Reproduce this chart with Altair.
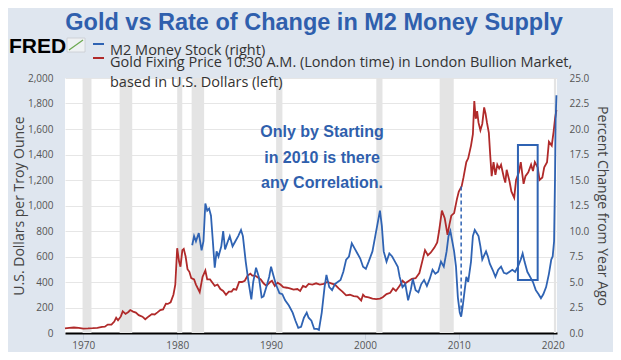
import altair as alt
import pandas as pd

# ---------------- data ----------------
gold_years = [1968.05, 1968.5, 1969.0, 1969.5, 1970.0, 1970.5, 1971.0, 1971.5, 1972.0, 1972.3, 1972.6, 1973.0,
              1973.3, 1973.5, 1973.7, 1974.0, 1974.2, 1974.5, 1974.8, 1975.0, 1975.3, 1975.6, 1975.9, 1976.3,
              1976.6, 1977.0, 1977.3, 1977.6, 1977.9, 1978.2, 1978.5, 1978.8, 1979.0, 1979.3, 1979.6, 1979.8,
              1980.0, 1980.2, 1980.35, 1980.55, 1980.7, 1980.9, 1981.1, 1981.3, 1981.5, 1981.8, 1982.0, 1982.4,
              1982.7, 1983.0, 1983.2, 1983.5, 1983.8, 1984.0, 1984.3, 1984.6, 1984.9, 1985.2, 1985.5, 1985.8,
              1986.0, 1986.3, 1986.6, 1986.9, 1987.2, 1987.5, 1987.8, 1988.0, 1988.3, 1988.6, 1988.9, 1989.2,
              1989.5, 1989.9, 1990.1, 1990.4, 1990.7, 1991.0, 1991.3, 1991.7, 1992.0, 1992.4, 1992.8, 1993.1,
              1993.4, 1993.7, 1994.0, 1994.4, 1994.8, 1995.2, 1995.6, 1996.0, 1996.4, 1996.8, 1997.2, 1997.6,
              1998.0, 1998.4, 1998.8, 1999.2, 1999.6, 1999.8, 2000.0, 2000.4, 2000.8, 2001.2, 2001.6, 2001.9,
              2002.3, 2002.7, 2003.0, 2003.3, 2003.7, 2004.0, 2004.3, 2004.7, 2005.0, 2005.4, 2005.8, 2006.1,
              2006.4, 2006.7, 2007.0, 2007.4, 2007.7, 2007.9, 2008.2, 2008.5, 2008.8, 2009.0, 2009.2, 2009.5,
              2009.8, 2010.0, 2010.3, 2010.5, 2010.8, 2011.0, 2011.3, 2011.5, 2011.65, 2011.8, 2011.95, 2012.1,
              2012.3, 2012.5, 2012.7, 2012.85, 2013.0, 2013.2, 2013.35, 2013.5, 2013.7, 2013.9, 2014.1, 2014.3,
              2014.5, 2014.8, 2014.95, 2015.1, 2015.4, 2015.6, 2015.9, 2016.1, 2016.4, 2016.6, 2016.9, 2017.1,
              2017.4, 2017.7, 2017.9, 2018.1, 2018.4, 2018.6, 2018.9, 2019.1, 2019.4, 2019.6, 2019.9, 2020.1,
              2020.25, 2020.4]
gold_values = [36, 40, 43, 41, 35, 36, 38, 41, 48, 50, 66, 66,
               90, 120, 100, 130, 170, 150, 165, 180, 168, 160, 140, 128,
               108, 132, 148, 145, 162, 180, 185, 230, 228, 240, 300, 380,
               665, 560, 520, 650, 660, 600, 500, 480, 430, 420, 380, 320,
               440, 490, 420, 420, 390, 370, 380, 345, 330, 300, 325, 325,
               345, 340, 400, 400, 410, 450, 465, 450, 450, 435, 420, 390,
               370, 400, 410, 370, 395, 380, 360, 355, 350, 340, 345, 330,
               370, 360, 385, 380, 390, 380, 385, 400, 390, 380, 350, 325,
               295, 300, 290, 285, 255, 300, 285, 280, 270, 265, 270, 280,
               305, 315, 350, 330, 370, 410, 390, 410, 425, 430, 470, 560,
               650, 610, 630, 670, 710, 800, 960, 900, 770, 850, 920, 940,
               1050, 1110, 1150, 1220, 1340, 1370, 1470, 1560, 1820, 1680, 1740, 1650,
               1590, 1640, 1770, 1720, 1650, 1570, 1390, 1230, 1340, 1240, 1320, 1290,
               1320, 1220, 1180, 1280, 1190, 1110, 1060, 1200, 1260, 1340, 1170, 1230,
               1260, 1320, 1270, 1340, 1300, 1200, 1220, 1300, 1340, 1500, 1470, 1580,
               1680, 1750]

m2_years = [1981.6, 1981.8, 1982.0, 1982.3, 1982.6, 1982.8, 1983.0, 1983.2, 1983.4, 1983.6, 1983.8, 1984.0,
            1984.2, 1984.4, 1984.7, 1984.9, 1985.1, 1985.4, 1985.6, 1985.9, 1986.2, 1986.5, 1986.8, 1987.0,
            1987.3, 1987.6, 1987.9, 1988.1, 1988.4, 1988.7, 1989.0, 1989.2, 1989.5, 1989.8, 1990.0, 1990.2,
            1990.5, 1990.9, 1991.2, 1991.5, 1991.9, 1992.3, 1992.6, 1992.9, 1993.2, 1993.5, 1993.8, 1994.0,
            1994.3, 1994.6, 1994.9, 1995.1, 1995.4, 1995.7, 1995.9, 1996.2, 1996.5, 1996.8, 1997.1, 1997.4,
            1997.7, 1998.0, 1998.3, 1998.6, 1998.9, 1999.2, 1999.5, 1999.8, 2000.1, 2000.4, 2000.8, 2001.1,
            2001.4, 2001.6, 2001.8, 2002.0, 2002.3, 2002.6, 2002.9, 2003.2, 2003.5, 2003.7, 2004.0, 2004.3,
            2004.6, 2004.9, 2005.1, 2005.4, 2005.7, 2006.0, 2006.3, 2006.6, 2006.9, 2007.2, 2007.5, 2007.8,
            2008.1, 2008.4, 2008.7, 2008.9, 2009.1, 2009.3, 2009.5, 2009.7, 2009.9, 2010.1, 2010.25, 2010.4,
            2010.6, 2010.8, 2011.0, 2011.3, 2011.5, 2011.7, 2011.9, 2012.1, 2012.3, 2012.5, 2012.7, 2012.9,
            2013.1, 2013.3, 2013.6, 2013.9, 2014.2, 2014.5, 2014.8, 2015.1, 2015.4, 2015.7, 2016.0, 2016.3,
            2016.6, 2016.8, 2017.0, 2017.3, 2017.6, 2017.9, 2018.2, 2018.5, 2018.75, 2019.0, 2019.3, 2019.6,
            2019.85, 2020.0, 2020.15, 2020.25, 2020.32, 2020.4]
m2_values = [8.6, 9.5, 9.0, 9.8, 8.1, 9.0, 12.7, 12.0, 12.2, 11.5, 9.0, 6.4,
             8.0, 7.5, 8.5, 10.0, 8.2, 9.0, 9.5, 8.5, 9.0, 9.5, 10.1, 9.5,
             7.0, 5.0, 3.3, 5.0, 6.4, 5.5, 3.5, 3.6, 4.5, 5.5, 6.5, 5.8,
             4.8, 3.9, 3.8, 3.2, 2.7, 2.0, 1.2, 0.5, 0.6, 1.5, 2.0, 1.5,
             1.2, 0.4, 0.4, 0.3, 2.0, 4.5, 5.7, 4.5, 4.2, 4.8, 5.0, 5.2,
             6.0, 7.2, 7.5, 8.8, 8.3, 7.8, 7.3, 6.5, 6.3, 7.0, 8.0, 9.5,
             11.0, 12.0, 10.5, 8.0, 7.0, 7.8, 7.5, 7.0, 6.5, 5.5, 4.5, 4.8,
             3.2, 4.3, 5.3, 4.2, 4.0, 4.8, 5.2, 4.6, 5.3, 6.2, 5.8, 6.0,
             7.0, 6.5, 8.0, 9.5, 10.0, 9.0, 8.0, 6.5, 3.5, 2.0, 1.6, 2.5,
             4.0, 5.5, 5.0, 7.0, 9.5, 10.1, 9.8, 9.5, 8.5, 7.2, 7.6, 8.0,
             7.5, 6.8, 6.2, 5.5, 6.2, 6.5, 5.9, 5.8, 6.0, 6.2, 6.0, 6.5,
             7.2, 7.8, 7.0, 6.0, 5.5, 5.0, 4.2, 3.8, 3.4, 3.8, 4.5, 5.8,
             7.2, 7.5, 9.0, 15.3, 21.0, 23.3]

rec_start = [1969.92, 1973.87, 1980.0, 1981.54, 1990.54, 2001.21, 2007.96, 2020.13]
rec_end = [1970.87, 1975.21, 1980.54, 1982.87, 1991.21, 2001.87, 2009.46, 2020.37]

box_x = [2016.3]
box_x2 = [2018.4]
box_y = [415]
box_y2 = [1475]
dash_x = [2010.25]
dash_y = [1150]
dash_y2 = [140]

x_ticks = [1970, 1980, 1990, 2000, 2010, 2020]
left_ticks = [0, 200, 400, 600, 800, 1000, 1200, 1400, 1600, 1800, 2000]
right_ticks = [0, 2.5, 5, 7.5, 10, 12.5, 15, 17.5, 20, 22.5, 25]

title_text = "Gold vs Rate of Change in M2 Money Supply"
legend_1 = "M2 Money Stock (right)"
legend_2 = "Gold Fixing Price 10:30 A.M. (London time) in London Bullion Market,"
legend_3 = "based in U.S. Dollars (left)"
note_lines = ["Only by Starting", "in 2010 is there", "any Correlation."]

# ---------------- styling ----------------
BLUE = "#2f63b3"
RED = "#b02a2a"
NOTE = "#2f5fad"
FONT = "Open Sans"

gold_df = pd.DataFrame({"year": gold_years, "gold": gold_values})
m2_df = pd.DataFrame({"year": m2_years, "m2": m2_values})
rec_df = pd.DataFrame({"start": rec_start, "end": rec_end})
box_df = pd.DataFrame({"x": box_x, "x2": box_x2, "y": box_y, "y2": box_y2})
dash_df = pd.DataFrame({"x": dash_x, "y": dash_y, "y2": dash_y2})
one = pd.DataFrame({"a": [0]})

xs = alt.Scale(domain=[1968.05, 2020.46], nice=False, zero=False)
xax = alt.Axis(values=x_ticks, format="d", title=None, grid=False,
               domainColor="black", domainWidth=2.2, tickColor="#c9d2de", tickSize=6,
               labelPadding=1, labelFontSize=10, labelColor="#555", labelFont=FONT)
ls = alt.Scale(domain=[0, 2000], nice=False, zero=True)
lax = alt.Axis(values=left_ticks, format=",.0f", title="U.S. Dollars per Troy Ounce",
               grid=True, gridColor="#e6e6e6", domain=False, ticks=False,
               labelPadding=12, labelFontSize=10, labelColor="#555", labelFont=FONT,
               titleFont=FONT, titleFontSize=14, titleFontWeight="normal", titleColor="#444",
               titlePadding=1)
rs = alt.Scale(domain=[0, 25], nice=False, zero=True)
rax = alt.Axis(values=right_ticks, format=".1f", title="Percent Change from Year Ago",
               orient="right", grid=False, domain=False, ticks=False,
               labelPadding=12, labelFontSize=10, labelColor="#555", labelFont=FONT,
               titleFont=FONT, titleFontSize=14, titleFontWeight="normal", titleColor="#444",
               titlePadding=6)

rec = alt.Chart(rec_df).mark_rect(color="#e4e4e4").encode(
    x=alt.X("start:Q", scale=xs, axis=xax), x2="end:Q",
    y=alt.value(0), y2=alt.value(255))

gold = alt.Chart(gold_df).mark_line(color=RED, strokeWidth=1.8).encode(
    x=alt.X("year:Q", scale=xs, axis=xax),
    y=alt.Y("gold:Q", scale=ls, axis=lax))

box = alt.Chart(box_df).mark_rect(fillOpacity=0, stroke=BLUE, strokeWidth=2).encode(
    x=alt.X("x:Q", scale=xs, axis=xax), x2="x2:Q",
    y=alt.Y("y:Q", scale=ls, axis=lax), y2="y2:Q")

dash = alt.Chart(dash_df).mark_rule(color=BLUE, strokeWidth=1.5, strokeDash=[4, 3]).encode(
    x=alt.X("x:Q", scale=xs, axis=xax),
    y=alt.Y("y:Q", scale=ls, axis=lax), y2="y2:Q")

left = alt.layer(rec, gold, box, dash)

m2 = alt.Chart(m2_df).mark_line(color=BLUE, strokeWidth=1.8).encode(
    x=alt.X("year:Q", scale=xs, axis=xax),
    y=alt.Y("m2:Q", scale=rs, axis=rax))


def txt(text, x, y, size, color, weight="normal", align="left", font=FONT, **kw):
    return alt.Chart(one).mark_text(text=text, align=align, baseline="alphabetic",
                                    fontSize=size, fontWeight=weight, color=color,
                                    font=font, **kw).encode(x=alt.value(x), y=alt.value(y))


title = txt(title_text, 249, -48, 23.5, NOTE, weight="bold", align="center", font="Liberation Sans")
fred = txt("FRED", -56, -25, 21, "black", weight="bold", font="Liberation Sans")
leg1 = txt(legend_1, 45, -23, 14.5, "#333")
leg2 = txt(legend_2, 45, -11, 14.5, "#333")
leg3 = txt(legend_3, 45, 9, 14.5, "#333")
note = alt.Chart(one).mark_text(text=note_lines, align="center", baseline="alphabetic",
                                fontSize=16, fontWeight="bold", color=NOTE,
                                font="Liberation Sans", lineHeight=25.5).encode(
    x=alt.value(257), y=alt.value(59))

# small FRED chart icon
icon_box = alt.Chart(one).mark_rect(fill="#eef1f3", stroke="#c8ccd0", strokeWidth=0.8).encode(
    x=alt.value(2), x2=alt.value(20), y=alt.value(-40), y2=alt.value(-26))
icon_line = alt.Chart(one).mark_rule(color="#6aa84f", strokeWidth=1.2).encode(
    x=alt.value(4), x2=alt.value(18), y=alt.value(-28), y2=alt.value(-38))
leg_blue = alt.Chart(one).mark_rule(color=BLUE, strokeWidth=2).encode(
    x=alt.value(28), x2=alt.value(39), y=alt.value(-34))
leg_red = alt.Chart(one).mark_rule(color=RED, strokeWidth=2).encode(
    x=alt.value(28), x2=alt.value(39), y=alt.value(-20))

chart = alt.layer(left, m2, title, fred, icon_box, icon_line, leg_blue, leg_red,
                  leg1, leg2, leg3, note).resolve_scale(
    y="independent"
).properties(
    width=492, height=255,
    autosize=alt.AutoSizeParams(type="none"),
    padding={"left": 57, "top": 70, "right": 56, "bottom": 19},
    background="#dfe6ef",
).configure_view(fill="white", stroke=None)

chart.save("out.html", embed_options={"renderer": "svg", "actions": False})
